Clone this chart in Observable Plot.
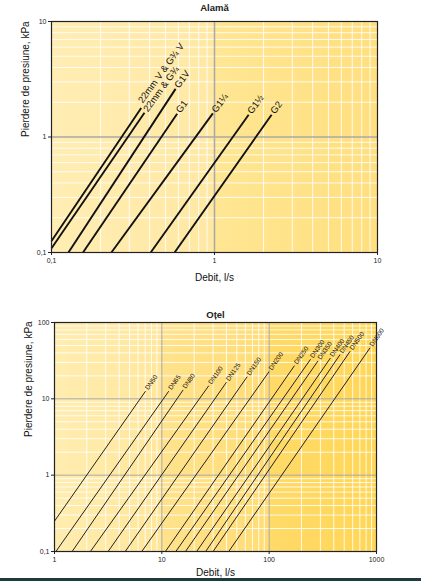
<!DOCTYPE html>
<html><head><meta charset="utf-8">
<script src="https://cdn.jsdelivr.net/npm/d3@7"></script>
<script src="https://cdn.jsdelivr.net/npm/@observablehq/plot@0.6"></script>
<style>
body{margin:0;background:#fff;}
#wrap{position:relative;width:421px;height:581px;overflow:hidden;font-family:"Liberation Sans",Arial,sans-serif;}
#top{position:absolute;left:0;top:0;}
#bot{position:absolute;left:0;top:290px;}
#bar{position:absolute;left:0;top:578px;width:421px;height:3px;background:#1f3a40;}
</style></head><body>
<div id="wrap"><div id="top"></div><div id="bot"></div><div id="bar"></div></div>
<script>
// ---------- Data: Alamă (brass) ----------
const brassNames     = ["22mm V & G¾ V", "22mm & G¾", "G1V", "G1", "G1¼", "G1½", "G2"];
const brassFlowStart = [0.1, 0.1, 0.127, 0.156, 0.233, 0.406, 0.569];
const brassLossStart = [0.126, 0.109, 0.1, 0.1, 0.1, 0.1, 0.1];
const brassFlowEnd   = [0.355, 0.372, 0.577, 0.59, 0.977, 1.62, 2.24];
const brassLossEnd   = [1.78, 1.62, 2.61, 1.59, 1.6, 1.56, 1.56];
const brassTickValues = [0.1, 1, 10];
const brassTickLabels = ["0,1", "1", "10"];

// ---------- Data: Oțel (steel) ----------
const steelNames     = ["DN50","DN65","DN80","DN100","DN125","DN150","DN200","DN250","DN300","DN350","DN400","DN450","DN500","DN600"];
const steelFlowStart = [1, 1.03, 1.46, 2.16, 3.16, 4.56, 6.5, 10.8, 13.5, 16.6, 21.1, 25.6, 30, 42];
const steelLossStart = [0.25, 0.1, 0.1, 0.1, 0.1, 0.1, 0.1, 0.1, 0.1, 0.1, 0.1, 0.1, 0.1, 0.1];
const steelFlowEnd   = [7.05, 11.6, 15.8, 27.4, 40, 62.4, 100, 172, 243, 285, 372, 458, 568, 872];
const steelLossEnd   = [12.6, 12.6, 13.1, 14.9, 16.5, 19.5, 22.8, 27.2, 33, 31.4, 34.2, 38, 42, 46.7];
const steelXTickValues = [1, 10, 100, 1000];
const steelXTickLabels = ["1", "10", "100", "1000"];
const steelYTickValues = [0.1, 1, 10, 100];
const steelYTickLabels = ["0,1", "1", "10", "100"];

const xLabel = "Debit, l/s";
const yLabel = "Pierdere de presiune, kPa";

const FONT = '"Liberation Sans", Arial, sans-serif';

function minorGrid(decades) {
  const out = [];
  decades.forEach(d => { for (let m = 2; m <= 9; m++) out.push(d * m); });
  return out;
}
function fmt(values, labels) { return v => { const i = values.findIndex(t => Math.abs(t - v) / t < 1e-6); return i >= 0 ? labels[i] : ""; }; }

function addGradient(svg, id, stops) {
  const defs = d3.select(svg).insert("defs", ":first-child");
  const g = defs.append("linearGradient").attr("id", id).attr("x1", 0).attr("x2", 1).attr("y1", 0).attr("y2", 0);
  stops.forEach(([o, c]) => g.append("stop").attr("offset", o).attr("stop-color", c));
}

// ---------- Top chart ----------
const brass = brassNames.map((n, i) => ({name: n, i, x1: brassFlowStart[i], y1: brassLossStart[i], x2: brassFlowEnd[i], y2: brassLossEnd[i]}));
const topChart = Plot.plot({
  width: 421, height: 290,
  marginTop: 21, marginBottom: 38, marginLeft: 51, marginRight: 44,
  style: {fontFamily: FONT, fontSize: "7px", background: "transparent", color: "#222"},
  x: {type: "log", domain: [0.1, 10]},
  y: {type: "log", domain: [0.1, 10]},
  marks: [
    Plot.frame({fill: "url(#gTop)"}),
    Plot.ruleX(minorGrid([0.1, 1]), {stroke: "white", strokeWidth: 1, strokeOpacity: 0.85}),
    Plot.ruleY(minorGrid([0.1, 1]), {stroke: "white", strokeWidth: 1, strokeOpacity: 0.85}),
    Plot.ruleX([1], {stroke: "#a9a9a9", strokeWidth: 1.5}),
    Plot.ruleY([1], {stroke: "#a9a9a9", strokeWidth: 1.5}),
    Plot.link(brass, {x1: "x1", y1: "y1", x2: "x2", y2: "y2", stroke: "#111", strokeWidth: 1.9}),
    Plot.text(brass, {filter: d => d.i === 0, x: "x2", y: "y2", text: "name", rotate: -54, textAnchor: "start", dx: -1, dy: -6, fontSize: 9.5, fill: "#111"}),
    Plot.text(brass, {filter: d => d.i > 0, x: "x2", y: "y2", text: "name", rotate: -54, textAnchor: "start", dx: 1, dy: -2, fontSize: 9.5, fill: "#111"}),
    Plot.axisX({ticks: brassTickValues, tickFormat: fmt(brassTickValues, brassTickLabels), tickSize: 3, tickPadding: 3, label: null}),
    Plot.axisY({ticks: brassTickValues, tickFormat: fmt(brassTickValues, brassTickLabels), tickSize: 3, tickPadding: 2, label: null}),
    Plot.frame({stroke: "#222", strokeWidth: 1.2}),
    Plot.text(["Alamă"], {frameAnchor: "top", lineAnchor: "middle", dy: -14, fontSize: 9.5, fontWeight: "bold", fill: "#222"}),
    Plot.text([xLabel], {frameAnchor: "bottom", lineAnchor: "middle", dy: 25, fontSize: 10, fill: "#111"}),
    Plot.text([yLabel], {frameAnchor: "left", dx: -26, rotate: -90, fontSize: 10, fill: "#111"})
  ]
});
addGradient(topChart, "gTop", [[0, "#FFEDB3"], [0.5, "#FFE8A3"], [0.5, "#FFE693"], [1, "#FFDF7F"]]);
document.getElementById("top").appendChild(topChart);

// ---------- Bottom chart ----------
const steel = steelNames.map((n, i) => ({name: n, x1: steelFlowStart[i], y1: steelLossStart[i], x2: steelFlowEnd[i], y2: steelLossEnd[i]}));
const botChart = Plot.plot({
  width: 421, height: 291,
  marginTop: 32, marginBottom: 30, marginLeft: 54, marginRight: 45,
  style: {fontFamily: FONT, fontSize: "7px", background: "transparent", color: "#222"},
  x: {type: "log", domain: [1, 1000]},
  y: {type: "log", domain: [0.1, 100]},
  marks: [
    Plot.frame({fill: "url(#gBot)"}),
    Plot.ruleX(minorGrid([1, 10, 100]), {stroke: "white", strokeWidth: 1, strokeOpacity: 0.85}),
    Plot.ruleY(minorGrid([0.1, 1, 10]), {stroke: "white", strokeWidth: 1, strokeOpacity: 0.85}),
    Plot.ruleX([10, 100], {stroke: "#a9a9a9", strokeWidth: 1}),
    Plot.ruleY([1, 10], {stroke: "#a9a9a9", strokeWidth: 1}),
    Plot.link(steel, {x1: "x1", y1: "y1", x2: "x2", y2: "y2", stroke: "#222", strokeWidth: 1}),
    Plot.text(steel, {x: "x2", y: "y2", text: "name", rotate: -55, textAnchor: "start", dx: 1, dy: -2, fontSize: 6.5, fill: "#111"}),
    Plot.axisX({ticks: steelXTickValues, tickFormat: fmt(steelXTickValues, steelXTickLabels), tickSize: 3, tickPadding: 3, label: null}),
    Plot.axisY({ticks: steelYTickValues, tickFormat: fmt(steelYTickValues, steelYTickLabels), tickSize: 3, tickPadding: 2, label: null}),
    Plot.frame({stroke: "#222", strokeWidth: 1.2}),
    Plot.text(["Oțel"], {frameAnchor: "top", lineAnchor: "middle", dy: -8, fontSize: 9.5, fontWeight: "bold", fill: "#222"}),
    Plot.text([xLabel], {frameAnchor: "bottom", lineAnchor: "middle", dy: 21, fontSize: 10, fill: "#111"}),
    Plot.text([yLabel], {frameAnchor: "left", dx: -26, rotate: -90, fontSize: 10, fill: "#111"})
  ]
});
addGradient(botChart, "gBot", [[0, "#FFEDB0"], [0.333, "#FFE69A"], [0.333, "#FFE28C"], [0.667, "#FFDC74"], [0.667, "#FFDA68"], [1, "#FFD656"]]);
document.getElementById("bot").appendChild(botChart);
</script>
</body></html>
